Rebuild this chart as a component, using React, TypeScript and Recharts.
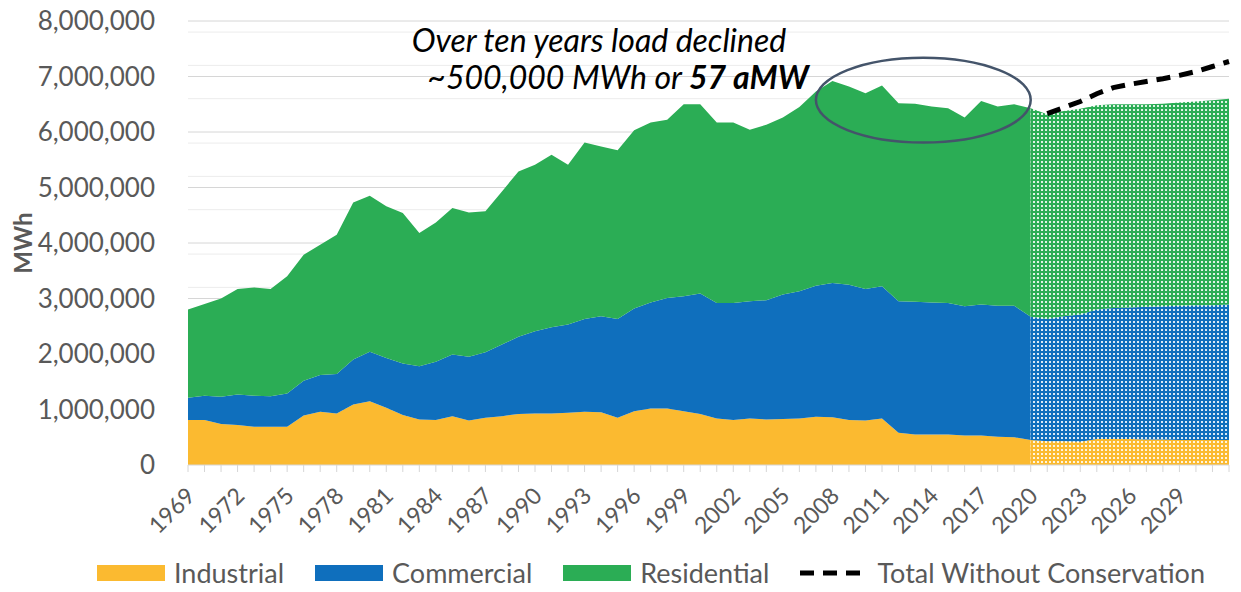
import React from 'react';
import {
  AreaChart,
  Area,
  Line,
  XAxis,
  YAxis,
  CartesianGrid,
  Legend,
  ReferenceArea,
  Customized,
} from 'recharts';

const years = [
  1969, 1970, 1971, 1972, 1973, 1974, 1975, 1976, 1977, 1978, 1979, 1980, 1981,
  1982, 1983, 1984, 1985, 1986, 1987, 1988, 1989, 1990, 1991, 1992, 1993, 1994,
  1995, 1996, 1997, 1998, 1999, 2000, 2001, 2002, 2003, 2004, 2005, 2006, 2007,
  2008, 2009, 2010, 2011, 2012, 2013, 2014, 2015, 2016, 2017, 2018, 2019, 2020,
  2021, 2022, 2023, 2024, 2025, 2026, 2027, 2028, 2029, 2030, 2031, 2032,
];

const industrial = [
  810000, 810000, 740000, 720000, 690000, 690000, 690000, 890000, 960000, 930000,
  1090000, 1150000, 1030000, 900000, 820000, 810000, 880000, 800000, 850000, 880000,
  920000, 930000, 930000, 940000, 960000, 950000, 850000, 970000, 1020000, 1020000,
  970000, 920000, 840000, 810000, 840000, 820000, 830000, 840000, 870000, 860000,
  810000, 800000, 840000, 580000, 550000, 550000, 550000, 530000, 530000, 510000,
  500000, 450000, 430000, 430000, 420000, 470000, 470000, 470000, 460000, 460000,
  450000, 450000, 450000, 450000,
];

const commercial = [
  400000, 440000, 490000, 550000, 560000, 550000, 600000, 630000, 660000, 710000,
  810000, 890000, 900000, 930000, 960000, 1050000, 1110000, 1150000, 1180000, 1290000,
  1390000, 1480000, 1550000, 1590000, 1670000, 1730000, 1780000, 1850000, 1910000, 1990000,
  2070000, 2170000, 2080000, 2110000, 2110000, 2150000, 2240000, 2290000, 2360000, 2420000,
  2440000, 2370000, 2380000, 2370000, 2390000, 2380000, 2370000, 2330000, 2360000, 2360000,
  2370000, 2220000, 2200000, 2250000, 2290000, 2330000, 2360000, 2370000, 2390000, 2400000,
  2420000, 2430000, 2430000, 2440000,
];

const residential = [
  1590000, 1650000, 1770000, 1900000, 1950000, 1930000, 2110000, 2270000, 2350000, 2510000,
  2830000, 2810000, 2730000, 2710000, 2400000, 2510000, 2640000, 2600000, 2540000, 2760000,
  2980000, 3000000, 3110000, 2880000, 3180000, 3060000, 3040000, 3210000, 3240000, 3210000,
  3460000, 3410000, 3250000, 3250000, 3090000, 3160000, 3190000, 3320000, 3500000, 3640000,
  3570000, 3530000, 3620000, 3570000, 3570000, 3530000, 3510000, 3400000, 3670000, 3590000,
  3630000, 3760000, 3690000, 3700000, 3710000, 3680000, 3670000, 3660000, 3650000, 3650000,
  3660000, 3670000, 3690000, 3710000,
];

const twcYears = [2021, 2022, 2023, 2024, 2025, 2026, 2027, 2028, 2029, 2030, 2031, 2032];
const twcValues = [
  6330000, 6440000, 6550000, 6690000, 6800000, 6860000, 6910000, 6960000, 7020000,
  7090000, 7180000, 7270000,
];

const FORECAST_START = 2020;

const yTicks = [0, 1000000, 2000000, 3000000, 4000000, 5000000, 6000000, 7000000, 8000000];
const xTickLabels = [
  1969, 1972, 1975, 1978, 1981, 1984, 1987, 1990, 1993, 1996, 1999, 2002, 2005,
  2008, 2011, 2014, 2017, 2020, 2023, 2026, 2029,
];

const majorGrid = yTicks.slice(1);
const minorGrid: number[] = [];
for (let v = 200000; v < 8000000; v += 200000) {
  if (v % 1000000 !== 0) minorGrid.push(v);
}

const IND = '#FBBA30';
const COM = '#0F6FBD';
const RES = '#2BAD55';
const FONT = 'Lato, "Open Sans", sans-serif';
const GRAY = '#595959';

const data = years.map((year, i) => {
  const hist = year <= FORECAST_START;
  const fc = year >= FORECAST_START;
  const t = twcYears.indexOf(year);
  return {
    year,
    indH: hist ? industrial[i] : null,
    comH: hist ? commercial[i] : null,
    resH: hist ? residential[i] : null,
    indF: fc ? industrial[i] : null,
    comF: fc ? commercial[i] : null,
    resF: fc ? residential[i] : null,
    twc: t >= 0 ? twcValues[t] : null,
  };
});

const XTick = (props: any) => {
  const { x, y, payload } = props;
  if (!xTickLabels.includes(payload.value)) return <g />;
  return (
    <text
      x={x + 2}
      y={y}
      transform={`rotate(-45, ${x + 2}, ${y})`}
      textAnchor="end"
      dominantBaseline="central"
      fill={GRAY}
      fontSize={23}
      fontFamily={FONT}
    >
      {payload.value}
    </text>
  );
};

const legendItems = [
  { name: 'Industrial', color: IND, type: 'rect' },
  { name: 'Commercial', color: COM, type: 'rect' },
  { name: 'Residential', color: RES, type: 'rect' },
  { name: 'Total Without Conservation', color: '#000', type: 'dash' },
];

const LegendContent = () => (
  <div
    style={{
      display: 'flex',
      alignItems: 'center',
      height: 30,
      paddingLeft: 97,
      fontFamily: FONT,
      fontSize: 27,
      lineHeight: '30px',
      color: GRAY,
    }}
  >
    {legendItems.map((it) => (
      <div key={it.name} style={{ display: 'flex', alignItems: 'center', marginRight: 31 }}>
        {it.type === 'rect' ? (
          <div style={{ width: 68, height: 16, background: it.color }} />
        ) : (
          <svg width={68} height={16}>
            <line x1={0} y1={8} x2={68} y2={8} stroke="#000" strokeWidth={5} strokeDasharray="14 9" />
          </svg>
        )}
        <span style={{ marginLeft: 9, whiteSpace: 'nowrap' }}>{it.name}</span>
      </div>
    ))}
  </div>
);

const Annotation = () => (
  <g fontFamily={FONT} fontStyle="italic" fontSize={32} fill="#000">
    <text x={599} y={52} textAnchor="middle">
      Over ten years load declined
    </text>
    <text x={618} y={89} textAnchor="middle">
      ~500,000 MWh or <tspan fontWeight="bold">57 aMW</tspan>
    </text>
  </g>
);

const EllipseShape = (props: any) => {
  const { x, y, width, height } = props;
  return (
    <ellipse
      cx={x + width / 2}
      cy={y + height / 2}
      rx={width / 2}
      ry={height / 2}
      fill="none"
      stroke="#44546A"
      strokeWidth={2.5}
    />
  );
};

const YLabel = (props: any) => {
  const vb = props.viewBox || {};
  const cy = vb.y + vb.height / 2;
  return (
    <text
      x={22}
      y={cy}
      transform={`rotate(-90, 22, ${cy})`}
      textAnchor="middle"
      dominantBaseline="central"
      fontFamily={FONT}
      fontWeight="bold"
      fontSize={24}
      fill={GRAY}
    >
      MWh
    </text>
  );
};

export default function App() {
  return (
    <div style={{ margin: -8, width: 1241, height: 592, background: '#fff' }}>
      <AreaChart
        width={1241}
        height={592}
        data={data}
        margin={{ top: 21, right: 12, left: 0, bottom: 1 }}
      >
        <defs>
          <pattern id="dotInd" width="4" height="4" patternUnits="userSpaceOnUse">
            <rect width="4" height="4" fill={IND} />
            <rect x="1" y="1" width="2" height="2" fill="#fff" opacity="0.85" />
          </pattern>
          <pattern id="dotCom" width="4" height="4" patternUnits="userSpaceOnUse">
            <rect width="4" height="4" fill={COM} />
            <rect x="1" y="1" width="2" height="2" fill="#fff" opacity="0.85" />
          </pattern>
          <pattern id="dotRes" width="4" height="4" patternUnits="userSpaceOnUse">
            <rect width="4" height="4" fill={RES} />
            <rect x="1" y="1" width="2" height="2" fill="#fff" opacity="0.85" />
          </pattern>
        </defs>
        <CartesianGrid vertical={false} horizontalValues={minorGrid} stroke="#ececec" strokeWidth={1} />
        <CartesianGrid vertical={false} horizontalValues={majorGrid} stroke="#d6d6d6" strokeWidth={1} />
        <XAxis
          dataKey="year"
          type="category"
          interval={0}
          height={96}
          tick={<XTick />}
          tickSize={7}
          tickMargin={19}
          axisLine={{ stroke: '#d6d6d6' }}
          tickLine={{ stroke: '#d6d6d6' }}
        />
        <YAxis
          domain={[0, 8000000]}
          ticks={yTicks}
          width={188}
          axisLine={false}
          tickLine={false}
          tickSize={0}
          tickMargin={33}
          tickFormatter={(v: number) => v.toLocaleString('en-US')}
          tick={{ fill: GRAY, fontSize: 26, fontFamily: FONT }}
          label={{ content: <YLabel /> }}
        />
        <Area type="linear" dataKey="indH" stackId="h" stroke="none" fill={IND} fillOpacity={1} isAnimationActive={false} dot={false} activeDot={false} />
        <Area type="linear" dataKey="comH" stackId="h" stroke="none" fill={COM} fillOpacity={1} isAnimationActive={false} dot={false} activeDot={false} />
        <Area type="linear" dataKey="resH" stackId="h" stroke="none" fill={RES} fillOpacity={1} isAnimationActive={false} dot={false} activeDot={false} />
        <Area type="linear" dataKey="indF" stackId="f" stroke="none" fill="url(#dotInd)" fillOpacity={1} isAnimationActive={false} dot={false} activeDot={false} />
        <Area type="linear" dataKey="comF" stackId="f" stroke="none" fill="url(#dotCom)" fillOpacity={1} isAnimationActive={false} dot={false} activeDot={false} />
        <Area type="linear" dataKey="resF" stackId="f" stroke="none" fill="url(#dotRes)" fillOpacity={1} isAnimationActive={false} dot={false} activeDot={false} />
        <Line
          type="linear"
          dataKey="twc"
          stroke="#000"
          strokeWidth={5}
          strokeDasharray="14 9"
          dot={false}
          activeDot={false}
          isAnimationActive={false}
        />
        <ReferenceArea
          x1={2007}
          x2={2020}
          y1={5810000}
          y2={7340000}
          ifOverflow="visible"
          shape={<EllipseShape />}
        />
        <Customized component={<Annotation />} />
        <Legend
          verticalAlign="bottom"
          height={30}
          content={<LegendContent />}
          wrapperStyle={{ position: 'absolute', top: 558, bottom: 'auto', left: 0, width: 1241, height: 30 }}
        />
      </AreaChart>
    </div>
  );
}
